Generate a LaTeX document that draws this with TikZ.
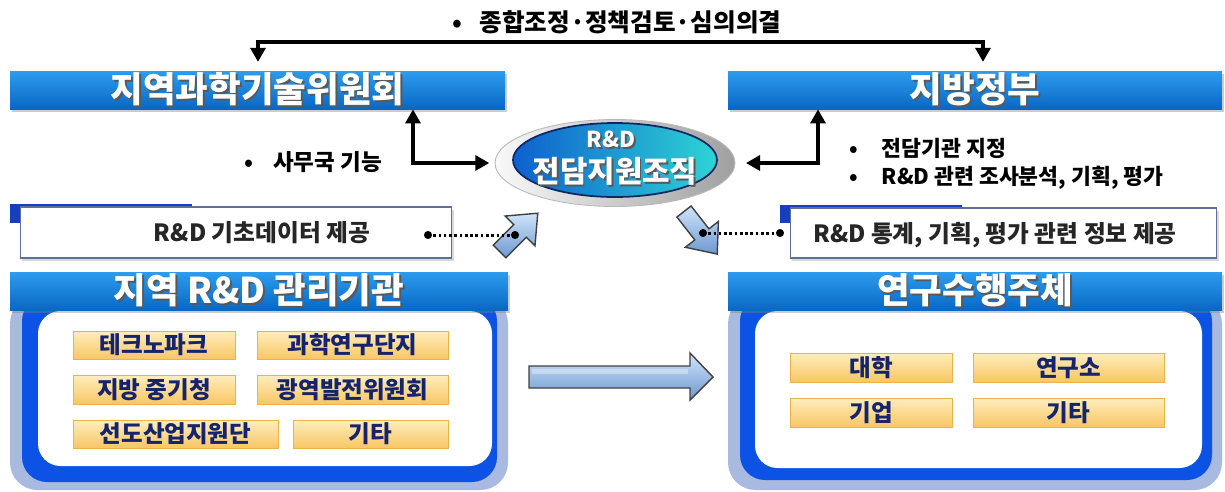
\documentclass[tikz,border=0pt]{standalone}
\usepackage{fontspec}
\setmainfont{Noto Sans CJK KR}
\usetikzlibrary{arrows.meta,shadows,shapes.geometric}

\definecolor{hdrtop}{RGB}{45,155,238}
\definecolor{hdrbot}{RGB}{8,104,196}
\definecolor{bandlight}{RGB}{168,186,224}
\definecolor{bandblue}{RGB}{12,82,228}
\definecolor{tabblue}{RGB}{22,62,190}
\definecolor{orgtop}{RGB}{254,238,190}
\definecolor{orgbot}{RGB}{248,198,100}
\definecolor{orgline}{RGB}{238,178,70}
\definecolor{navy}{RGB}{22,36,110}
\definecolor{boxline}{RGB}{95,112,150}
\definecolor{arrtop}{RGB}{208,228,250}
\definecolor{arrbot}{RGB}{108,152,208}
\definecolor{ellblue}{RGB}{14,96,206}
\definecolor{ellcyan}{RGB}{45,212,212}
\definecolor{ellline}{RGB}{15,40,100}

% white text with a soft dark shadow
\newcommand{\shtxt}[1]{\makebox[0pt][l]{\kern1pt\raisebox{-1pt}{\textcolor{black!65}{#1}}}#1}

\begin{document}
\begin{tikzpicture}[x=0.02cm,y=-0.02cm,
  hdr/.style={rectangle, top color=hdrtop, bottom color=hdrbot, inner sep=0pt,
    minimum height=0.76cm, text=white, font=\fontsize{20.2}{22}\selectfont\bfseries,
    drop shadow={shadow xshift=1pt, shadow yshift=-1.5pt, opacity=0.4}},
  lbl/.style={inner sep=0pt, text=black, font=\fontsize{12.3}{14}\selectfont\bfseries},
  infobox/.style={rectangle, draw=boxline, line width=0.6pt, fill=white, inner sep=0pt,
    drop shadow={shadow xshift=1.2pt, shadow yshift=-1.5pt, opacity=0.3}},
  infotxt/.style={inner sep=0pt, text=black!85, font=\fontsize{13.5}{15}\selectfont\bfseries},
  org/.style={rectangle, top color=orgtop, bottom color=orgbot, draw=orgline, line width=0.5pt,
    inner sep=0pt, text=navy, font=\fontsize{13.4}{15}\selectfont\bfseries},
  elb/.style={line width=2.3pt, {Triangle[length=8pt,width=8.5pt]}-{Triangle[length=8pt,width=8.5pt]}},
  dotline/.style={line width=1.7pt, dash pattern=on 1.5pt off 1.5pt},
  blockarrow/.style={top color=arrtop, bottom color=arrbot, draw=black!75, line width=0.8pt, line join=miter}
]
\useasboundingbox (0,0) rectangle (1225,491);

% ---------- upper headers ----------
\node[hdr, minimum width=9.9cm] (lhdr) at (257.5,90) {\shtxt{지역과학기술위원회}};
\node[hdr, minimum width=9.88cm] (rhdr) at (975,90) {\shtxt{지방정부}};

% ---------- central ellipse ----------
\node[ellipse, minimum width=4.8cm, minimum height=1.74cm, left color=gray!5, right color=gray!75,
      draw=gray!55, line width=0.5pt] (ell) at (615,163) {};
\node[ellipse, minimum width=4.08cm, minimum height=1.48cm, left color=ellblue, right color=ellcyan,
      draw=ellline, line width=1pt] (elli) at (615,160) {};
\node[inner sep=0pt, text=white, font=\fontsize{12.5}{14}\selectfont\bfseries] (ellt1) at (611,140) {\shtxt{R\&D}};
\node[inner sep=0pt, text=white, font=\fontsize{17}{19}\selectfont\bfseries] (ellt2) at (615,172) {\shtxt{전담지원조직}};

% ---------- top coordination connector ----------
\coordinate (tl) at (258,42);
\coordinate (tr) at (983,42);
\draw[elb, shorten <=5pt, shorten >=5pt] (lhdr.north -| tl) -- (tl) -- (tr) -- (rhdr.north -| tr);
\node[lbl, font=\fontsize{14}{16}\selectfont\bfseries] (toptxt) at (617,22) {•\hspace{0.7em}종합조정·정책검토·심의의결};

% ---------- elbow connectors to the ellipse ----------
\coordinate (kl) at (413,0);
\coordinate (kr) at (818,0);
\draw[elb, shorten >=3pt] (lhdr.south -| kl) |- (ell.west);
\draw[elb, shorten >=6pt] (rhdr.south -| kr) |- (ell.east);

\node[lbl, font=\fontsize{12.8}{14}\selectfont\bfseries] (lab1) at (313,162) {•\hspace{0.9em}사무국 기능};
\node[lbl, anchor=west] (lab2) at (849,148) {•\hspace{1.1em}전담기관 지정};
\node[lbl, anchor=west] (lab3) at (849,178) {•\hspace{1.1em}R\&D 관련 조사분석, 기획, 평가};

% ---------- information boxes ----------
\fill[tabblue] (10,204) rectangle (192,223);
\node[infobox, minimum width=8.64cm, minimum height=1.02cm] (lbox) at (236,232.5) {};
\node[infotxt] (ltxt) at (262,233) {R\&D 기초데이터 제공};

\fill[tabblue] (780,205) rectangle (962,223);
\node[infobox, minimum width=8.54cm, minimum height=1cm] (rbox) at (1003.5,233) {};
\node[infotxt] (rtxt) at (995,235) {R\&D 통계, 기획, 평가 관련 정보 제공};

% ---------- small block arrows ----------
\begin{scope}[shift={(518,233)}, rotate=45]
  \draw[blockarrow] (-26,-9) -- (3,-9) -- (3,-21) -- (28,0) -- (3,21) -- (3,9) -- (-26,9) -- cycle;
\end{scope}
\begin{scope}[shift={(700,232)}, rotate=-52]
  \draw[blockarrow] (-26,-9) -- (3,-9) -- (3,-21) -- (28,0) -- (3,21) -- (3,9) -- (-26,9) -- cycle;
\end{scope}

% ---------- dotted data links ----------
\coordinate (ld1) at (428,235);
\coordinate (ld2) at (515,235);
\coordinate (rd1) at (703,233);
\coordinate (rd2) at (780,233);
\draw[dotline] (ld1) -- (ld2);
\draw[dotline] (rd1) -- (rd2);
\foreach \p in {ld1,ld2,rd1,rd2} \fill (\p) circle (2.3pt);

% ---------- lower left panel ----------
\fill[bandlight, rounded corners=0.55cm] (10,296) rectangle (508,490);
\fill[bandblue, rounded corners=0.5cm] (22,296) rectangle (497,482);
\fill[white, rounded corners=0.45cm] (38,311) rectangle (492,466);
\node[hdr, minimum width=9.96cm] (lphdr) at (259,291) {\shtxt{지역 R\&D 관리기관}};

\node[org, minimum width=3.24cm, minimum height=0.56cm] (o1) at (154,345) {테크노파크};
\node[org, minimum width=3.82cm, minimum height=0.56cm] (o2) at (352.5,345) {과학연구단지};
\node[org, minimum width=3.24cm, minimum height=0.58cm] (o3) at (154,389.5) {지방 중기청};
\node[org, minimum width=3.82cm, minimum height=0.58cm] (o4) at (352.5,389.5) {광역발전위원회};
\node[org, minimum width=4.1cm, minimum height=0.56cm] (o5) at (175.5,434) {선도산업지원단};
\node[org, minimum width=3.1cm, minimum height=0.56cm] (o6) at (370.5,434) {기타};

% ---------- lower right panel ----------
\fill[bandlight, rounded corners=0.55cm] (728,296) rectangle (1222,490);
\fill[bandblue, rounded corners=0.5cm] (740,296) rectangle (1212,480);
\fill[white, rounded corners=0.45cm] (755,311) rectangle (1202,468);
\node[hdr, minimum width=9.88cm] (rphdr) at (975,291) {\shtxt{연구수행주체}};

\node[org, minimum width=3.24cm, minimum height=0.58cm] (r1) at (871,367.5) {대학};
\node[org, minimum width=3.82cm, minimum height=0.58cm] (r2) at (1068.5,367.5) {연구소};
\node[org, minimum width=3.24cm, minimum height=0.58cm] (r3) at (871,412.5) {기업};
\node[org, minimum width=3.82cm, minimum height=0.58cm] (r4) at (1068.5,412.5) {기타};

% ---------- big transfer arrow between panels ----------
\draw[blockarrow] (529,366) -- (690,366) -- (690,353) -- (713,377) -- (690,400) -- (690,388) -- (529,388) -- cycle;
\fill[white, opacity=0.35] (532,369) rectangle (688,374);
\end{tikzpicture}
\end{document}
